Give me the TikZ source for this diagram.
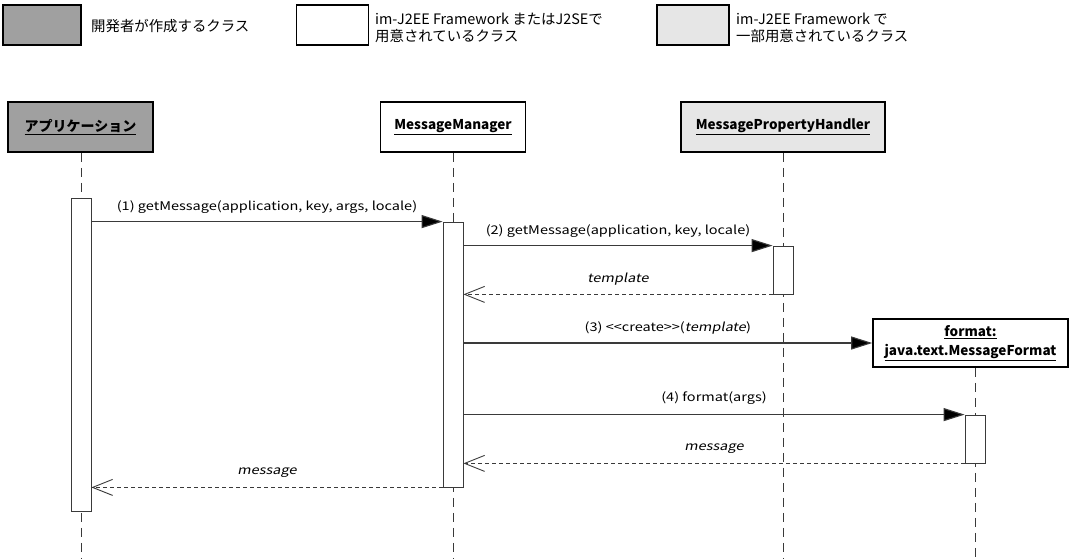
\documentclass[tikz,border=0pt]{standalone}
\usepackage{fontspec}
\setmainfont{Noto Sans CJK JP}[ItalicFont=Noto Sans CJK JP, ItalicFeatures={FakeSlant=0.2}, BoldItalicFont=Noto Sans CJK JP Bold, BoldItalicFeatures={FakeSlant=0.2}]
\newfontfamily\latf{Noto Sans CJK JP}[FakeStretch=1.21, ItalicFont=Noto Sans CJK JP, ItalicFeatures={FakeSlant=0.2}]
\usetikzlibrary{arrows.meta}
\definecolor{devgray}{HTML}{A0A0A0}
\definecolor{partgray}{HTML}{E6E6E6}
\definecolor{linegray}{HTML}{3A3A3A}
\tikzset{
  legbox/.style={draw=black, line width=1.2pt, inner sep=0pt, minimum width=72pt, minimum height=40pt},
  legtext/.style={anchor=west, inner sep=0pt, font=\fontsize{14.4}{17}\selectfont, align=left},
  headbox/.style={draw=black, line width=1.6pt, inner sep=0pt, minimum height=50pt, font=\bfseries\fontsize{13.5}{20}\selectfont, align=center},
  actbar/.style={draw=linegray, fill=white, line width=0.8pt, inner sep=0pt, minimum width=20pt},
  lifeline/.style={draw=linegray, line width=0.8pt, dash pattern=on 9pt off 6pt},
  sync/.style={draw=linegray, line width=1.1pt, -{Triangle[length=21pt,width=13pt,fill=black]}},
  ret/.style={draw=linegray, line width=0.9pt, dash pattern=on 4pt off 3pt, -{Straight Barb[length=20pt,width=16pt,line width=0.9pt]}},
  msglabel/.style={midway, yshift=15pt, inner sep=0pt, font=\latf\fontsize{12}{14}\selectfont}
}
\begin{document}
\begin{tikzpicture}[x=1pt,y=-1pt]
\useasboundingbox[fill=white] (0,0) rectangle (1071,558);
% legend
\node[legbox, fill=devgray, minimum width=78pt] (lg1) at (42,25) {};
\node[legtext] (lt1) at (91,26) {開発者が作成するクラス};
\node[legbox, fill=white] (lg2) at (332.5,25) {};
\node[legtext] (lt2) at (375,28) {im-J2EE Framework またはJ2SEで\\用意されているクラス};
\node[legbox, fill=partgray] (lg3) at (693,25) {};
\node[legtext] (lt3) at (736,28) {im-J2EE Framework で\\一部用意されているクラス};
% heads
\node[headbox, fill=devgray, minimum width=145pt, font=\bfseries\fontsize{14}{20}\selectfont] (app) at (80.5,127) {\underline{アプリケーション}};
\node[headbox, fill=white, minimum width=145pt] (mm) at (453,127) {\underline{MessageManager}};
\node[headbox, fill=partgray, minimum width=204pt] (mph) at (783,127) {\underline{MessagePropertyHandler}};
\node[headbox, fill=white, minimum width=195pt, minimum height=48pt, font=\bfseries\fontsize{13.5}{19}\selectfont] (fmt) at (970.5,343) {\underline{format:}\\\underline{java.text.MessageFormat}};
% lifeline ends
\coordinate (append) at (81,558);
\coordinate (mmend) at (453,558);
\coordinate (mphend) at (783,558);
\coordinate (fmtend) at (975,558);
\draw[lifeline] (app.south -| append) -- (append);
\draw[lifeline] (mm.south -| mmend) -- (mmend);
\draw[lifeline] (mph.south -| mphend) -- (mphend);
\draw[lifeline] (fmt.south -| fmtend) -- (fmtend);
% activation bars
\node[actbar, minimum height=313pt] (appbar) at (81,354.5) {};
\node[actbar, minimum height=265pt] (mmbar) at (453,354.5) {};
\node[actbar, minimum height=48pt] (mphbar) at (783,270) {};
\node[actbar, minimum height=48pt] (fmtbar) at (975,439) {};
% messages
\draw[sync] (appbar.east |- mmbar.north west) -- node[msglabel] {(1) getMessage(application, key, args, locale)} (mmbar.north west);
\draw[sync] (mmbar.east |- mphbar.north west) -- node[msglabel] {(2) getMessage(application, key, locale)} (mphbar.north west);
\draw[ret] (mphbar.south west) -- node[msglabel] {\itshape template} (mmbar.east |- mphbar.south west);
\draw[sync] (mmbar.east |- fmt.west) -- node[msglabel] {(3) <{}<create>{}>(\textit{template})} (fmt.west);
\draw[sync] (mmbar.east |- fmtbar.north west) -- node[msglabel, yshift=2pt] {(4) format(args)} (fmtbar.north west);
\draw[ret] (fmtbar.south west) -- node[msglabel] {\itshape message} (mmbar.east |- fmtbar.south west);
\draw[ret] (mmbar.south west) -- node[msglabel] {\itshape message} (appbar.east |- mmbar.south west);
\end{tikzpicture}
\end{document}
